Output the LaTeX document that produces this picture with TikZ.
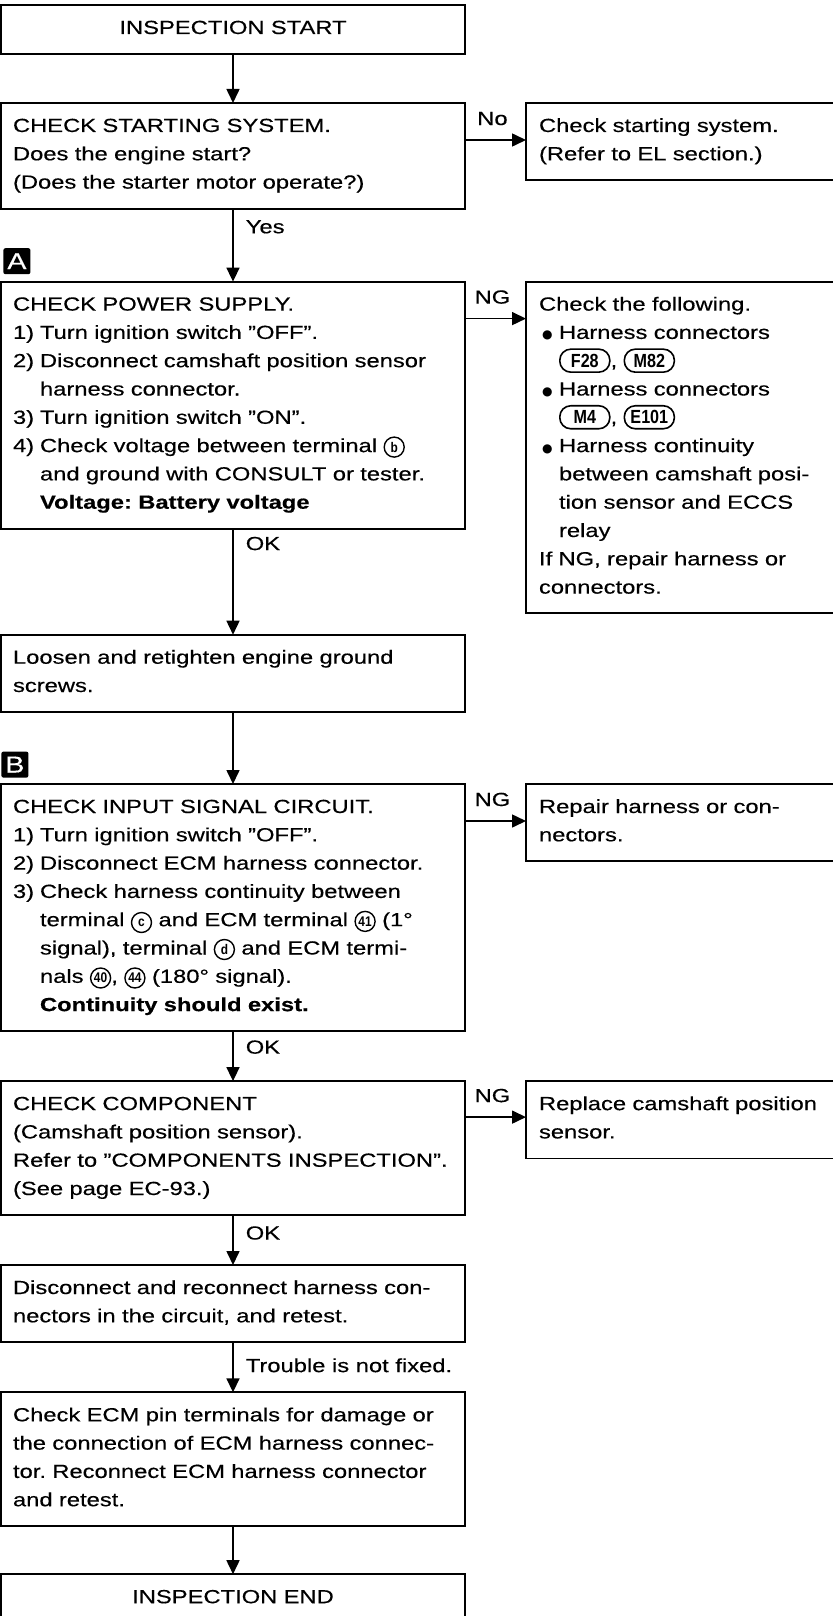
\documentclass[tikz,border=0pt]{standalone}
\usepackage{fontspec}
\setmainfont{Liberation Sans}[FakeStretch=1.25, FakeBold=0.4]
\newfontfamily\tagfont{Liberation Sans}[FakeStretch=0.85]
\newfontfamily\symfont{DejaVu Sans}
\usetikzlibrary{positioning,arrows.meta}

% circled terminal numbers, connector tags, list helpers
\newcommand{\trmnl}[1]{\tikz[baseline=(t.base)]\node[draw, circle, line width=0.7pt, inner sep=0pt,
  minimum size=10pt, text width={}, text height={}, text depth={}, align=center,
  font=\tagfont\bfseries\fontsize{7}{7}\selectfont] (t) {#1};}
\newcommand{\hconn}[1]{\tikz[baseline=(c.base)]\node[draw, rounded corners=5.5pt, line width=0.8pt, inner sep=0pt,
  minimum width=25pt, minimum height=11.5pt, text width={}, text height={}, text depth={}, align=center,
  font=\tagfont\bfseries\fontsize{9.5}{9.5}\selectfont] (c) {#1};}
\newcommand{\stepno}[1]{\makebox[13.5pt][l]{#1)}}
\newcommand{\indl}{\hspace*{13.5pt}}
\newcommand{\bull}{\makebox[10pt][l]{\hspace{1.5pt}{\symfont\fontsize{6}{6}\selectfont ●}}}
\newcommand{\bind}{\hspace*{10pt}}

\begin{document}
\begin{tikzpicture}[
      font=\fontsize{9.5}{14.15}\selectfont\frenchspacing,
      box/.style={draw, line width=0.9pt, align=left, inner xsep=6pt, inner ysep=0pt,
                  outer sep=0pt, text height=14.5pt},
      mainbox/.style={box, text width=220pt},
      sidebox/.style={box, text width=142pt, inner xsep=6.5pt},
      flow/.style={-{Triangle[length=7pt, width=6.5pt]}, line width=0.8pt},
      lbl/.style={inner sep=1pt},
      tag/.style={fill=black, text=white, rounded corners=1pt, minimum width=13.5pt,
                  minimum height=13pt, inner sep=0pt, font=\fontsize{11.5}{11.5}\selectfont},
    ]
    \useasboundingbox (0,0) rectangle (416.5pt,-808pt);
    % main column
    \node[mainbox, align=center, text depth=10pt, anchor=north west] (st) at (0.5pt,-2.5pt) {INSPECTION START};
    \node[mainbox, text depth=38.3pt, below=24.5pt of st] (q1)
      {CHECK STARTING SYSTEM.\\Does the engine start?\\(Does the starter motor operate?)};
    \node[mainbox, text depth=109.05pt, below=36.5pt of q1] (pw)
      {CHECK POWER SUPPLY.\\
       \stepno{1}Turn ignition switch ''OFF''.\\
       \stepno{2}Disconnect camshaft position sensor\\
       \indl harness connector.\\
       \stepno{3}Turn ignition switch ''ON''.\\
       \stepno{4}Check voltage between terminal \trmnl{b}\\
       \indl and ground with CONSULT or tester.\\
       \indl\textbf{Voltage: Battery voltage}};
    \node[mainbox, text depth=24.15pt, below=53pt of pw] (gr)
      {Loosen and retighten engine ground\\screws.};
    \node[mainbox, text depth=109.05pt, below=36pt of gr] (sig)
      {CHECK INPUT SIGNAL CIRCUIT.\\
       \stepno{1}Turn ignition switch ''OFF''.\\
       \stepno{2}Disconnect ECM harness connector.\\
       \stepno{3}Check harness continuity between\\
       \indl terminal \trmnl{c} and ECM terminal \trmnl{41} (1°\\
       \indl signal), terminal \trmnl{d} and ECM termi-\\
       \indl nals \trmnl{40}, \trmnl{44} (180° signal).\\
       \indl\textbf{Continuity should exist.}};
    \node[mainbox, text depth=52.45pt, below=25pt of sig] (comp)
      {CHECK COMPONENT\\(Camshaft position sensor).\\Refer to ''COMPONENTS INSPECTION''.\\(See page EC-93.)};
    \node[mainbox, text depth=24.15pt, below=25pt of comp] (rc)
      {Disconnect and reconnect harness con-\\nectors in the circuit, and retest.};
    \node[mainbox, text depth=52.45pt, below=25pt of rc] (ecm)
      {Check ECM pin terminals for damage or\\the connection of ECM harness connec-\\tor. Reconnect ECM harness connector\\and retest.};
    \node[mainbox, align=center, text depth=10pt, below=24pt of ecm] (fin) {INSPECTION END};
    % section markers
    \node[tag, above right=3.5pt and 1pt of pw.north west] (ma) {A};
    \node[tag, above right=3pt and 0pt of sig.north west] (mb) {B};
    % right column
    \node[sidebox, text depth=24.15pt, right=30.5pt of q1.north east, anchor=north west] (sys)
      {Check starting system.\\(Refer to EL section.)};
    \node[sidebox, text depth=151pt, right=30.5pt of pw.north east, anchor=north west] (harn)
      {Check the following.\\
       \bull Harness connectors\\
       \bind\hconn{F28}, \hconn{M82}\\
       \bull Harness connectors\\
       \bind\hconn{M4}, \hconn{E101}\\
       \bull Harness continuity\\
       \bind between camshaft posi-\\
       \bind tion sensor and ECCS\\
       \bind relay\\
       If NG, repair harness or\\
       connectors.};
    \node[sidebox, text depth=24.15pt, right=30.5pt of sig.north east, anchor=north west] (rep)
      {Repair harness or con-\\nectors.};
    \node[sidebox, text depth=24.15pt, right=30.5pt of comp.north east, anchor=north west] (repl)
      {Replace camshaft position\\sensor.};
    % connectors
    \draw[flow] (st) -- (q1);
    \draw[flow] (q1) -- node[lbl, right=5pt, pos=0.25] {Yes} (pw);
    \draw[flow] (pw) -- node[lbl, right=5pt, pos=0.14] {OK} (gr);
    \draw[flow] (gr) -- (sig);
    \draw[flow] (sig) -- node[lbl, right=5pt, pos=0.32] {OK} (comp);
    \draw[flow] (comp) -- node[lbl, right=5pt, pos=0.36] {OK} (rc);
    \draw[flow] (rc) -- node[lbl, right=5pt, pos=0.46] {Trouble is not fixed.} (ecm);
    \draw[flow] (ecm) -- (fin);
    \draw[flow] ([yshift=-18.5pt]q1.north east) -- node[lbl, above=6pt, pos=0.45] {No} ([yshift=-18.5pt]sys.north west);
    \draw[flow] ([yshift=-18.5pt]pw.north east) -- node[lbl, above=6pt, pos=0.45] {NG} ([yshift=-18.5pt]harn.north west);
    \draw[flow] ([yshift=-18.5pt]sig.north east) -- node[lbl, above=6pt, pos=0.45] {NG} ([yshift=-18.5pt]rep.north west);
    \draw[flow] ([yshift=-18pt]comp.north east) -- node[lbl, above=6pt, pos=0.45] {NG} ([yshift=-18pt]repl.north west);
  \end{tikzpicture}
\end{document}
